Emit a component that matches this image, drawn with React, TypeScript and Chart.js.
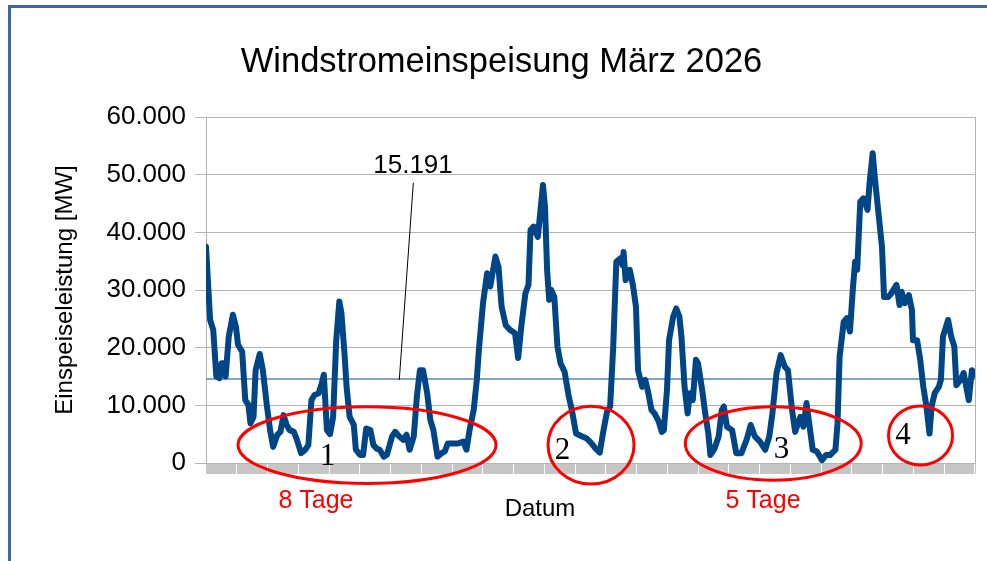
import React, { useEffect, useRef } from 'react';
import { Chart, registerables } from 'chart.js';
Chart.register(...registerables);

// ---- data ----
const chartTitle = 'Windstromeinspeisung März 2026';
const yAxisTitle = 'Einspeiseleistung [MW]';
const xAxisTitle = 'Datum';
const avgLevel = 14570;
const avgLabel = '15.191';

// hour of month (0..744)
const hours = [
  0, 4, 7, 10, 13, 15, 17, 19, 22, 26,
  29, 31, 35, 38, 41, 43, 46, 48, 52, 55,
  59, 62, 65, 69, 72, 75, 78, 81, 85, 88,
  92, 96, 99, 102, 105, 109, 112, 114, 117, 120,
  123, 126, 129, 131, 134, 136, 139, 143, 145, 149,
  152, 155, 159, 162, 165, 168, 172, 175, 180, 183,
  187, 191, 194, 197, 201, 204, 207, 210, 214, 217,
  220, 224, 228, 231, 234, 239, 244, 249, 252, 255,
  259, 262, 264, 268, 272, 275, 280, 283, 286, 290,
  294, 299, 302, 305, 309, 312, 314, 317, 321, 323,
  326, 328, 330, 332, 334, 337, 340, 343, 347, 351,
  354, 358, 364, 368, 373, 377, 381, 384, 388, 391,
  394, 397, 401, 403, 404, 406, 410, 413, 416, 418,
  422, 425, 428, 431, 434, 438, 441, 443, 446, 448,
  452, 455, 458, 460, 463, 466, 468, 471, 474, 476,
  480, 483, 486, 488, 492, 496, 499, 501, 504, 509,
  513, 518, 523, 527, 531, 536, 541, 545, 548, 552,
  556, 560, 563, 567, 570, 575, 578, 581, 584, 587,
  591, 596, 600, 604, 609, 611, 613, 617, 620, 623,
  626, 628, 630, 633, 636, 640, 642, 645, 647, 650,
  654, 656, 660, 663, 668, 671, 673, 676, 680, 683,
  684, 688, 691, 694, 697, 700, 702, 705, 709, 711,
  713, 718, 721, 724, 726, 730, 733, 738, 741, 744,
];

// MW
const power = [
  37500, 24800, 23100, 15000, 14700, 17300, 17300, 15000, 21900, 25700,
  23600, 20500, 19300, 10900, 10100, 6900, 8000, 16100, 18900, 16100,
  9800, 5700, 2800, 4900, 5400, 8300, 6600, 5700, 5400, 4000,
  1700, 2300, 3100, 10900, 11800, 12100, 13800, 15300, 5700, 5000,
  8000, 21300, 28000, 26000, 19000, 13200, 8000, 6600, 2300, 1400,
  1400, 6000, 5700, 3100, 2500, 2300, 1100, 1400, 4600, 5400,
  4600, 4000, 4900, 2300, 4600, 11500, 16100, 16100, 12100, 7500,
  5700, 1100, 1700, 2000, 3400, 3400, 3400, 3700, 2300, 5700,
  9200, 14400, 19600, 27700, 32900, 30600, 35800, 34000, 27100, 23900,
  23100, 22500, 18200, 23600, 29400, 30900, 40400, 41000, 39200, 42700,
  48200, 44400, 33500, 28300, 30000, 28800, 20200, 17300, 15800, 11500,
  9200, 5100, 4600, 4300, 3400, 2500, 1800, 5100, 8900, 9800,
  20200, 34900, 35500, 34300, 36600, 31700, 33500, 30900, 27100, 16100,
  13200, 14400, 12100, 9200, 8600, 7200, 5400, 5700, 12700, 21300,
  25400, 26800, 25400, 21900, 13200, 8600, 12100, 10900, 17900, 17300,
  12700, 8600, 5100, 1400, 2500, 4600, 9200, 9800, 6300, 5700,
  1700, 1700, 4000, 6600, 4600, 3700, 2300, 4600, 8600, 15600,
  18700, 16700, 16100, 9200, 5400, 8000, 6300, 10400, 6300, 2300,
  2000, 500, 1400, 1400, 2300, 6900, 18400, 24500, 25100, 22800,
  30600, 34900, 33500, 45300, 45900, 43900, 48500, 53700, 49600, 44400,
  37500, 28800, 28800, 29400, 30900, 27400, 29700, 27700, 29100, 26500,
  21300, 21300, 17900, 13200, 9800, 5100, 9800, 12100, 13200, 14400,
  21900, 24800, 21900, 20200, 13500, 14400, 15600, 10900, 16100, 15300,
];

// annotations (hour, MW)
const circleLabels = ['1', '2', '3', '4'];
const circleHour = [155.8, 372.5, 548.8, 691.3];
const circleMW = [3100, 3100, 3380, 4770];
const circleHalfHours = [124.8, 41.6, 85.1, 31];
const circleHalfMW = [6640, 6760, 6360, 5115];
const numberHour = [117.5, 345, 556.8, 674.3];
const numberMW = [1040, 2080, 2250, 4680];
const spanLabels = ['8 Tage', '5 Tage'];
const spanHour = [106.4, 538.9];
const avgLabelHour = 200.3;
const avgLabelMW = 51500;
const leaderStart = [200.6, 48600];
const leaderEnd = [187, 14390];

const SANS = '"Liberation Sans", Arial, sans-serif';
const SERIF = '"Liberation Serif", "Times New Roman", serif';

function fmt(v: number) {
  if (v === 0) return '0';
  return `${Math.round(v / 1000)}.000`;
}

const overlay = {
  id: 'overlay',
  afterDatasetsDraw(chart: any) {
    const { ctx, chartArea, scales } = chart;
    const x = scales.x;
    const y = scales.y;
    ctx.save();
    // right wall border
    ctx.strokeStyle = '#b3b3b3';
    ctx.lineWidth = 1;
    ctx.beginPath();
    ctx.moveTo(Math.round(chartArea.right) + 0.5, chartArea.top);
    ctx.lineTo(Math.round(chartArea.right) + 0.5, chartArea.bottom);
    ctx.stroke();

    // leader line for average label
    ctx.strokeStyle = '#000';
    ctx.lineWidth = 1;
    ctx.beginPath();
    ctx.moveTo(x.getPixelForValue(leaderStart[0]), y.getPixelForValue(leaderStart[1]));
    ctx.lineTo(x.getPixelForValue(leaderEnd[0]), y.getPixelForValue(leaderEnd[1]));
    ctx.stroke();
    ctx.fillStyle = '#000';
    ctx.font = `26px ${SANS}`;
    ctx.textAlign = 'center';
    ctx.textBaseline = 'middle';
    ctx.fillText(avgLabel, x.getPixelForValue(avgLabelHour), y.getPixelForValue(avgLabelMW));

    // ellipses
    ctx.strokeStyle = '#ff0000';
    ctx.lineWidth = 3;
    for (let i = 0; i < circleLabels.length; i++) {
      const cx = x.getPixelForValue(circleHour[i]);
      const cy = y.getPixelForValue(circleMW[i]);
      const rx = x.getPixelForValue(circleHour[i] + circleHalfHours[i]) - cx;
      const ry = cy - y.getPixelForValue(circleMW[i] + circleHalfMW[i]);
      ctx.beginPath();
      ctx.ellipse(cx, cy, rx, ry, 0, 0, Math.PI * 2);
      ctx.stroke();
    }
    // numbers
    ctx.fillStyle = '#000';
    ctx.font = `31px ${SERIF}`;
    for (let i = 0; i < circleLabels.length; i++) {
      ctx.fillText(circleLabels[i], x.getPixelForValue(numberHour[i]), y.getPixelForValue(numberMW[i]));
    }
    // red span labels
    ctx.fillStyle = '#ff0000';
    ctx.font = `25px ${SANS}`;
    ctx.textBaseline = 'alphabetic';
    for (let i = 0; i < spanLabels.length; i++) {
      ctx.fillText(spanLabels[i], x.getPixelForValue(spanHour[i]), chartArea.bottom + 45);
    }
    // x axis title
    ctx.fillStyle = '#000';
    ctx.font = `24px ${SANS}`;
    ctx.textBaseline = 'middle';
    ctx.fillText(xAxisTitle, chartArea.left + 334, chartArea.bottom + 46);
    // chart title
    ctx.font = `34.5px ${SANS}`;
    ctx.fillText(chartTitle, 501.5, 62);
    ctx.restore();
  },
  afterDraw(chart: any) {
    const { ctx, width, height } = chart;
    ctx.save();
    ctx.fillStyle = '#3b67a6';
    ctx.fillRect(8, 5, 3, height);
    ctx.fillRect(8, 5, width, 3);
    ctx.restore();
  },
};

export default function App() {
  const ref = useRef<HTMLCanvasElement | null>(null);
  useEffect(() => {
    if (!ref.current) return;
    const series = hours.map((h, i) => ({ x: h, y: power[i] }));
    const avg = [
      { x: hours[0], y: avgLevel },
      { x: hours[hours.length - 1], y: avgLevel },
    ];
    const chart = new Chart(ref.current, {
      type: 'line',
      data: {
        datasets: [
          {
            data: series,
            borderColor: '#004586',
            borderWidth: 6,
            pointRadius: 0,
            tension: 0,
            borderJoinStyle: 'round',
            borderCapStyle: 'round',
            order: 0,
          },
          {
            data: avg,
            borderColor: '#5a84b8',
            borderWidth: 1.5,
            pointRadius: 0,
            order: 1,
          },
        ],
      },
      options: {
        responsive: false,
        animation: false,
        events: [],
        layout: { padding: { left: 0, top: 117, right: 12, bottom: 0 } },
        plugins: { legend: { display: false }, title: { display: false }, tooltip: { enabled: false } },
        scales: {
          x: {
            type: 'linear',
            min: 0,
            max: 744,
            ticks: { display: false, stepSize: 1 },
            grid: { drawOnChartArea: false, drawTicks: true, tickLength: 11, color: '#a0a0a0', lineWidth: 0.6 },
            border: { color: '#b3b3b3' },
            afterFit: (s: any) => { s.height = 98; },
          },
          y: {
            min: 0,
            max: 60000,
            ticks: {
              stepSize: 5000,
              padding: 9,
              color: '#000',
              font: { family: SANS, size: 26 },
              callback: (v: any) => (Number(v) % 10000 === 0 ? fmt(Number(v)) : ''),
            },
            grid: { color: '#b3b3b3', tickLength: 11, lineWidth: 1 },
            border: { color: '#b3b3b3' },
            title: {
              display: true,
              text: yAxisTitle,
              color: '#000',
              font: { family: SANS, size: 24 },
              padding: { top: 51, bottom: 0 },
            },
            afterFit: (s: any) => { s.width = 206; },
          },
        },
      },
      plugins: [overlay],
    });
    return () => chart.destroy();
  }, []);
  return (
    <div style={{ position: 'absolute', left: 0, top: 0, width: 987, height: 561, background: '#fff' }}>
      <canvas ref={ref} width={987} height={561} style={{ display: 'block' }} />
    </div>
  );
}
